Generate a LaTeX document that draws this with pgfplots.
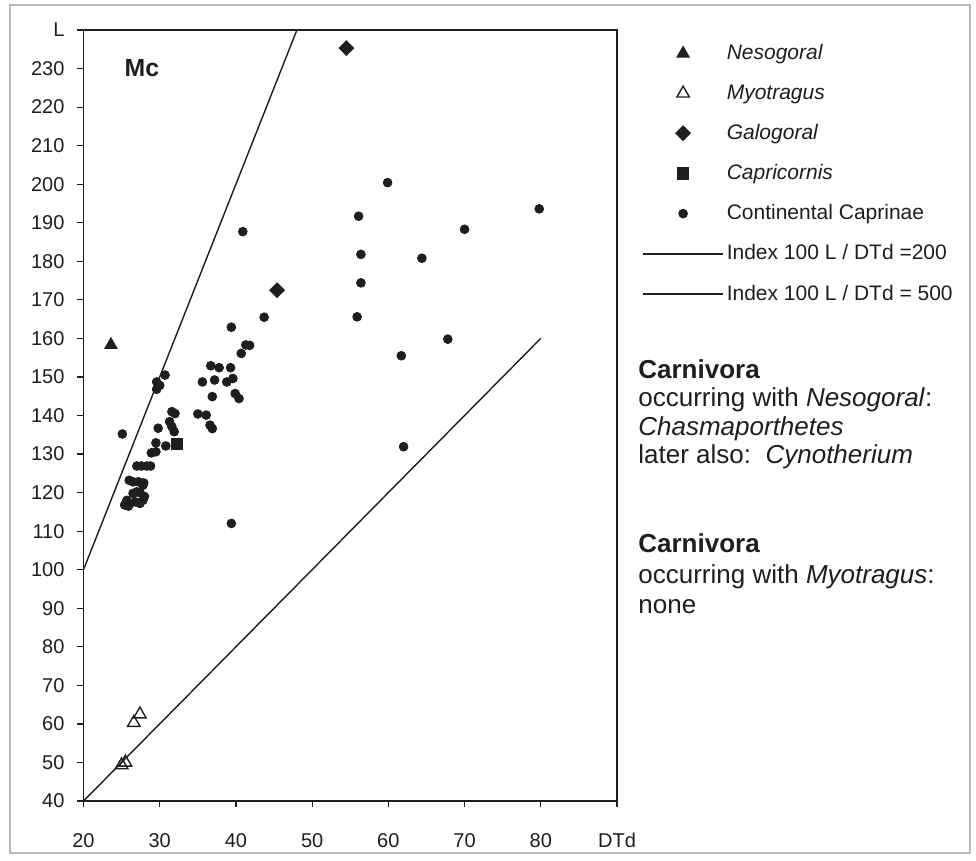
\documentclass[border=0pt]{standalone}
\usepackage{fontspec}
\setmainfont{Liberation Sans}
\usepackage{pgfplots}
\pgfplotsset{compat=1.18}
\pgfplotsset{
  legmark/.style={legend image code/.code={\draw[mark repeat=2,mark phase=2,##1] plot coordinates {(0pt,0pt) (20pt,0pt) (40pt,0pt)};}},
  legline/.style={legend image code/.code={\draw[##1] (0pt,0pt) -- (40pt,0pt);}},
}
\definecolor{ink}{HTML}{1E1E1E}
\begin{document}
\begin{tikzpicture}[x=1pt,y=1pt]
\path[use as bounding box] (0,0) rectangle (488,-430.5);
\draw[gray!55, line width=0.8pt] (5,-2.5) rectangle (485,-426.5);
\begin{axis}[
  at={(41.75pt,-400.5pt)}, anchor=south west,
  scale only axis, width=266.75pt, height=385.5pt,
  xmin=20, xmax=90, ymin=40, ymax=240,
  xtick={20,30,40,50,60,70,80,90},
  xticklabels={20,30,40,50,60,70,80,DTd},
  ytick={40,50,60,70,80,90,100,110,120,130,140,150,160,170,180,190,200,210,220,230,240},
  yticklabels={40,50,60,70,80,90,100,110,120,130,140,150,160,170,180,190,200,210,220,230,L},
  tick align=outside, xtick pos=bottom, ytick pos=left,
  major tick length=3pt,
  tick style={ink, line width=0.6pt},
  axis line style={ink, line width=0.6pt},
  /pgf/number format/assume math mode=true,
  ticklabel style={font=\fontsize{10}{12}\selectfont, text=ink},
  xticklabel style={yshift=-9.5pt},
  yticklabel style={xshift=-3pt},
  legend cell align=left,
  legend style={at={(1.0469,0.987)}, anchor=north west, draw=none, fill=none,
    inner sep=0pt, row sep=7pt, column sep=0pt,
    font=\fontsize{10.5}{12}\selectfont, text=ink,
    nodes={inner xsep=1.5pt}},
]
% Nesogoral
\addplot[only marks, legmark, mark=triangle*, mark size=3.6pt, color=ink] coordinates {(23.6,158.3)};
\addlegendentry{\textit{Nesogoral}}
% Myotragus
\addplot[only marks, legmark, mark=triangle, mark size=3.6pt, color=ink, mark options={line width=0.7pt, fill=none}] coordinates {
(27.4,62.5) (26.6,60.3) (25.5,50.0) (25.0,49.3)};
\addlegendentry{\textit{Myotragus}}
% Galogoral
\addplot[only marks, legmark, mark=square*, mark size=2.6pt, color=ink, mark options={rotate=45}] coordinates {(54.5,235.3) (45.4,172.5)};
\addlegendentry{\textit{Galogoral}}
% Capricornis
\addplot[only marks, legmark, mark=square*, mark size=2.8pt, color=ink] coordinates {(32.3,132.6)};
\addlegendentry{\textit{Capricornis}}
% Continental Caprinae
\addplot[only marks, legmark, mark=*, mark size=2.2pt, color=ink] coordinates {
(59.9,200.4) (79.8,193.6) (56.1,191.7) (40.9,187.7) (70.0,188.3)
(56.4,181.8) (64.4,180.8) (56.4,174.4) (43.7,165.5) (55.9,165.6)
(39.4,162.9) (67.8,159.8) (41.3,158.3) (41.8,158.2) (40.7,156.1)
(61.7,155.5) (36.7,152.9) (37.8,152.4) (39.3,152.4)
(35.6,148.7) (37.2,149.2) (38.8,148.7) (39.6,149.6)
(36.9,144.9) (39.9,145.7) (40.4,144.4) (62.0,131.9) (39.4,112.0)
(31.6,141.0) (32.0,140.5) (35.0,140.4) (36.1,140.1)
(36.6,137.5) (36.9,136.6) (31.3,138.4) (31.6,137.1) (31.9,135.8)
(30.7,150.5) (29.6,148.7) (30.0,147.8) (29.6,146.8)
(25.1,135.2) (29.8,136.7) (29.5,132.9) (30.8,132.1)
(28.9,130.3) (29.5,130.6)
(27.0,126.9) (27.6,126.9) (28.3,126.9) (28.8,126.9)
(26.0,123.2) (26.5,122.8) (27.2,122.8) (27.8,121.9) (27.9,122.5)
(26.5,119.8) (27.0,120.2) (27.4,120.0) (28.0,119.0)
(25.7,118.0) (26.1,117.2) (26.8,117.6) (27.4,117.2) (27.8,118.0)
(25.4,116.8) (25.9,116.5)};
\addlegendentry{Continental Caprinae}
% Index lines
\addplot[legline, ink, line width=0.7pt] coordinates {(20,40) (80,160)};
\addlegendentry{Index 100 L / DTd =200}
\addplot[legline, ink, line width=0.7pt] coordinates {(20,100) (48,240)};
\addlegendentry{Index 100 L / DTd = 500}
\node[font=\fontsize{12.4}{14}\selectfont\bfseries, text=ink] at (axis cs:27.67,230.06) {Mc};
\end{axis}
\begin{scope}[every node/.style={anchor=base west, inner sep=0pt, font=\fontsize{13}{15}\selectfont, text=ink}]
\node at (319,-189.25) {\textbf{Carnivora}};
\node at (319,-203.5) {occurring with \textit{Nesogoral}:};
\node at (319,-217.75) {\textit{Chasmaporthetes}};
\node at (319,-232) {later also:\ \ \textit{Cynotherium}};
\node at (319,-276.25) {\textbf{Carnivora}};
\node at (319,-291.5) {occurring with \textit{Myotragus}:};
\node at (319,-307) {none};
\end{scope}
\end{tikzpicture}
\end{document}
